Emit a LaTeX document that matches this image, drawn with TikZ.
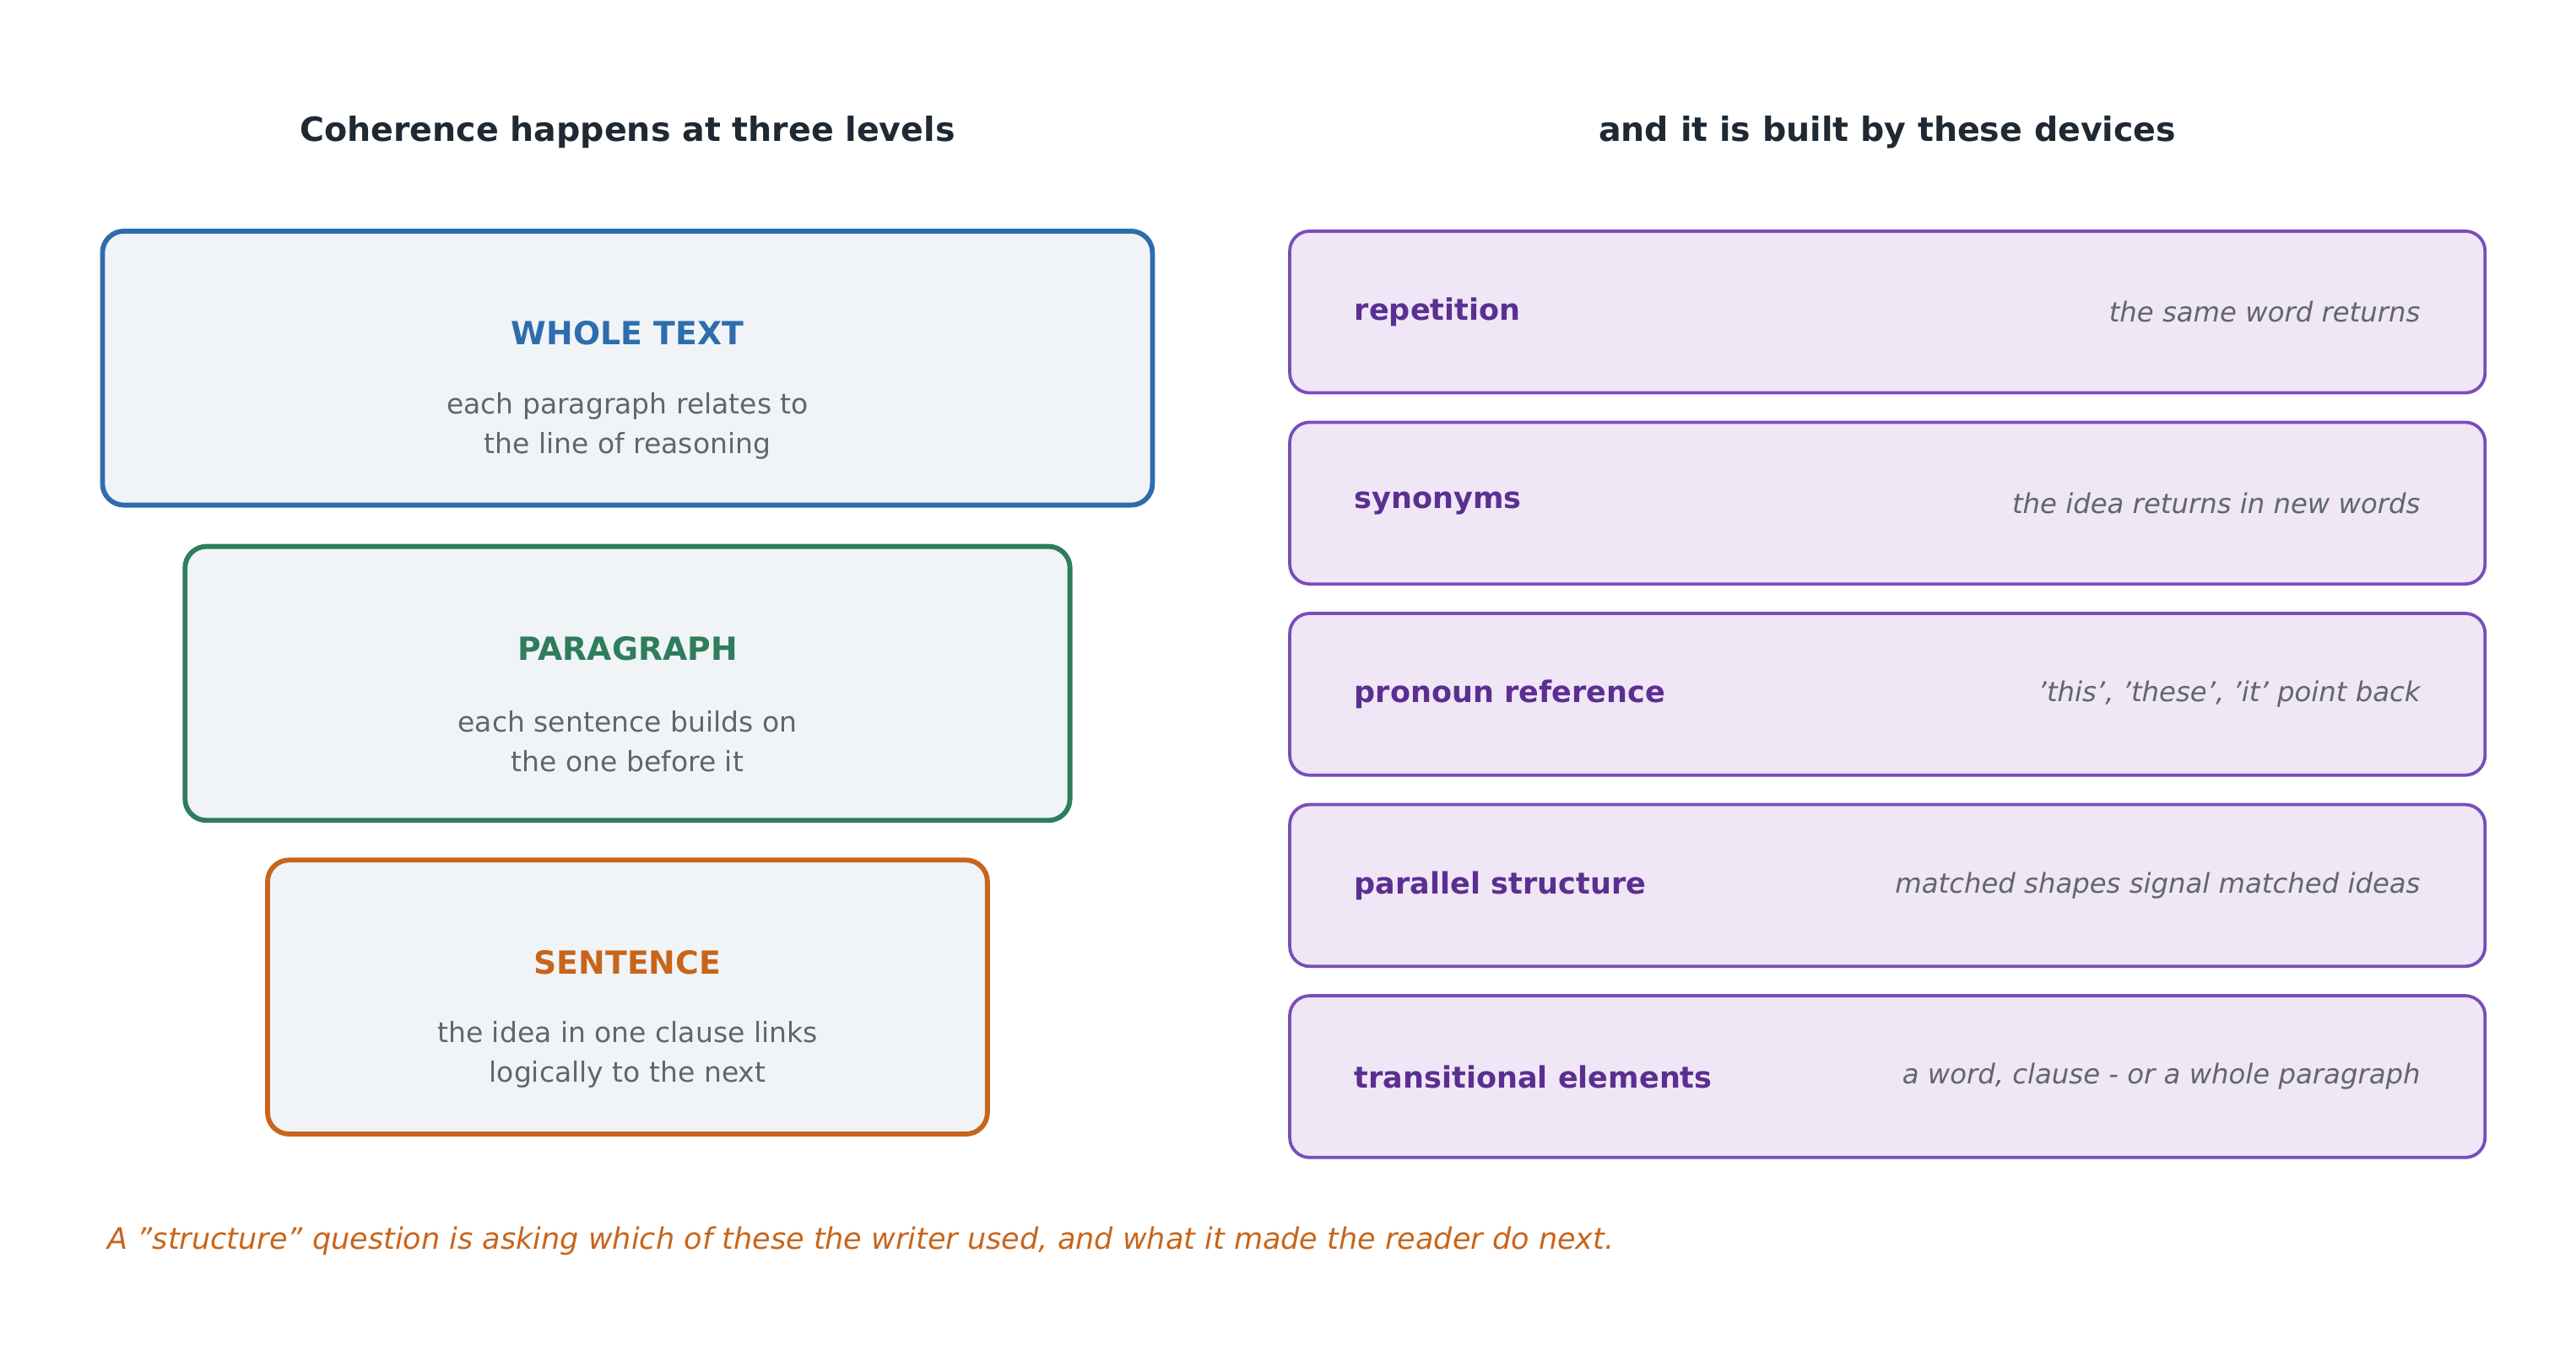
\documentclass[tikz,border=0pt]{standalone}
\usepackage{fontspec}
\setmainfont{DejaVu Sans}
\usetikzlibrary{positioning}
\definecolor{ink}{HTML}{1F2933}
\definecolor{muted}{HTML}{5F6670}
\definecolor{paper}{HTML}{F1F4F7}
\definecolor{wholec}{HTML}{2E6DAD}
\definecolor{parac}{HTML}{2E7D5B}
\definecolor{sentc}{HTML}{C8651B}
\definecolor{devline}{HTML}{7A4DBA}
\definecolor{devfill}{HTML}{EFE6F6}
\definecolor{devtext}{HTML}{5B2F91}
\tikzset{
  level/.style={rectangle, rounded corners=0.26cm, line width=1.7pt, fill=paper, minimum height=3.32cm},
  device/.style={rectangle, rounded corners=0.24cm, line width=1.1pt, draw=devline, fill=devfill, minimum width=14.48cm, minimum height=1.96cm},
  heading/.style={font=\fontsize{11.5}{14}\selectfont\bfseries, text=ink},
  tag/.style={font=\fontsize{11}{13}\selectfont\bfseries},
  gloss/.style={font=\fontsize{9.6}{13.6}\selectfont, text=muted, align=center},
  devname/.style={font=\fontsize{10.2}{12}\selectfont\bfseries, text=devtext, anchor=west},
  devnote/.style={font=\fontsize{9.4}{12}\selectfont\itshape, text=muted, anchor=east}
}
\begin{document}
\begin{tikzpicture}[x=0.02cm, y=-0.02cm]
	\useasboundingbox (0,0) rectangle (1560,824);

	% Headings
	\node (lefthead) [heading] at (380,80) {Coherence happens at three levels};
	\node (righthead) [heading] at (1143,80) {and it is built by these devices};

	% Levels
	\node (whole) [level, draw=wholec, minimum width=12.72cm] at (380,223) {};
	\node (para) [level, draw=parac, minimum width=10.72cm] at (380,414) {};
	\node (sent) [level, draw=sentc, minimum width=8.72cm] at (380,604) {};

	\node (wholetag) [tag, text=wholec] at (380,202) {WHOLE TEXT};
	\node (wholetxt) [gloss] at (380,258) {each paragraph relates to\\the line of reasoning};
	\node (paratag) [tag, text=parac] at (380,393) {PARAGRAPH};
	\node (paratxt) [gloss] at (380,449) {each sentence builds on\\the one before it};
	\node (senttag) [tag, text=sentc] at (380,583) {SENTENCE};
	\node (senttxt) [gloss] at (380,639) {the idea in one clause links\\logically to the next};

	% Devices
	\foreach \name/\note [count=\i] in {repetition/the same word returns,
		synonyms/the idea returns in new words,
		pronoun reference/{'this', 'these', 'it' point back},
		parallel structure/matched shapes signal matched ideas,
		transitional elements/{a word, clause - or a whole paragraph}} {
		\node (dev\i) [device] at (1143,{189+115.8*(\i-1)}) {};
		\node (devname\i) [devname] at ([xshift=0.68cm]dev\i.west) {\name};
		\node (devnote\i) [devnote] at ([xshift=-0.68cm]dev\i.east) {\note};
	}

	% Footer
	\node (footer) [anchor=west, font=\fontsize{10.2}{12}\selectfont\itshape, text=sentc] at (59,752)
		{A "structure" question is asking which of these the writer used, and what it made the reader do next.};
\end{tikzpicture}
\end{document}
